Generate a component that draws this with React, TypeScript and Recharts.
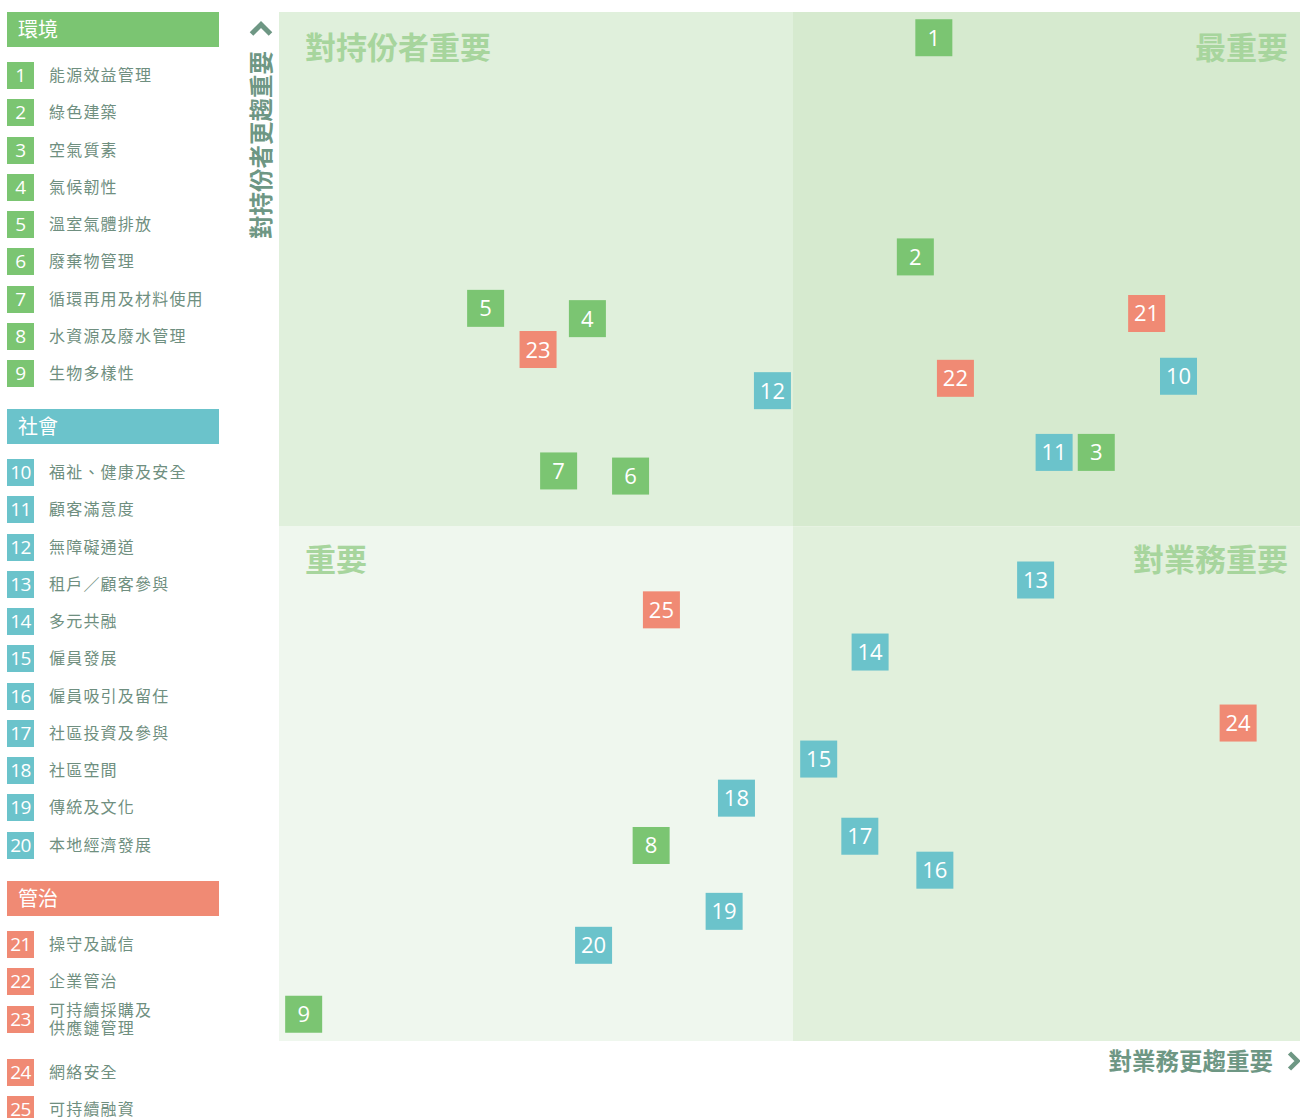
import React from 'react'
import {
  ScatterChart,
  Scatter,
  XAxis,
  YAxis,
  ReferenceArea,
} from 'recharts'

// topic names, numbered 1..25 in order
const envTopics = [
  '能源效益管理',
  '綠色建築',
  '空氣質素',
  '氣候韌性',
  '溫室氣體排放',
  '廢棄物管理',
  '循環再用及材料使用',
  '水資源及廢水管理',
  '生物多樣性',
]
const socialTopics = [
  '福祉、健康及安全',
  '顧客滿意度',
  '無障礙通道',
  '租戶／顧客參與',
  '多元共融',
  '僱員發展',
  '僱員吸引及留任',
  '社區投資及參與',
  '社區空間',
  '傳統及文化',
  '本地經濟發展',
]
const govTopics = [
  '操守及誠信',
  '企業管治',
  '可持續採購及\n供應鏈管理',
  '網絡安全',
  '可持續融資',
]

// importance to business (x) and to stakeholders (y), topics 1..25
const businessScores = [
  6.37, 6.19, 7.95, 3.0, 2.01, 3.42, 2.72, 3.62, 0.24, 8.75, 7.54, 4.8, 7.36,
  5.75, 5.25, 6.38, 5.65, 4.45, 4.33, 3.06, 8.44, 6.58, 2.52, 9.33, 3.72,
]
const stakeholderScores = [
  9.75, 7.62, 5.72, 7.02, 7.12, 5.49, 5.54, 1.9, 0.26, 6.46, 5.72, 6.32, 4.48,
  3.78, 2.74, 1.66, 1.99, 2.36, 1.26, 0.93, 7.07, 6.44, 6.72, 3.09, 4.19,
]

const GREEN = '#7bc572'
const TEAL = '#6bc3cb'
const SALMON = '#f08a74'
const AXIS_TEXT = '#6e9784'
const LEGEND_TEXT = '#6f8f80'
const QUAD_TEXT = '#a7d59d'
const CJK = '"Noto Sans CJK TC", "Noto Sans", sans-serif'
const NUM_FONT = '"Open Sans", "Noto Sans", sans-serif'

const sections = [
  { title: '環境', color: GREEN, topics: envTopics, start: 1, top: 12 },
  { title: '社會', color: TEAL, topics: socialTopics, start: 10, top: 409 },
  { title: '管治', color: SALMON, topics: govTopics, start: 21, top: 881 },
]

const buildPoints = (topics: string[], start: number) =>
  topics.map((_, i) => ({
    id: start + i,
    x: businessScores[start + i - 1],
    y: stakeholderScores[start + i - 1],
  }))

const envPoints = buildPoints(envTopics, 1)
const socialPoints = buildPoints(socialTopics, 10)
const govPoints = buildPoints(govTopics, 21)

const makeSquare = (color: string) => (props: any) => {
  const { cx, cy, payload } = props
  if (cx == null || cy == null) return <g />
  return (
    <g>
      <rect x={cx - 18.5} y={cy - 18.5} width={37} height={37} fill={color} />
      <text
        x={cx}
        y={cy - 1}
        textAnchor="middle"
        dominantBaseline="central"
        fill="#fff"
        fontSize={22}
        fontFamily={NUM_FONT}
      >
        {payload.id}
      </text>
    </g>
  )
}

const quadLabel =
  (text: string, side: 'left' | 'right', dy: number, rightPad = 19) =>
  (props: any) => {
    const { x, y, width } = props.viewBox
    const left = side === 'left'
    return (
      <text
        x={left ? x + 26 : x + width - rightPad}
        y={y + dy}
        textAnchor={left ? 'start' : 'end'}
        dominantBaseline="central"
        fill={QUAD_TEXT}
        fontSize={31}
        fontWeight={700}
        fontFamily={CJK}
      >
        {text}
      </text>
    )
  }

const YLabel = () => (
  <g>
    <path
      d="M251.5 34 L261 24.5 L270.5 34"
      fill="none"
      stroke={AXIS_TEXT}
      strokeWidth={5}
    />
    <text
      x={0}
      y={0}
      transform="translate(260 145) rotate(-90)"
      textAnchor="middle"
      dominantBaseline="central"
      fill={AXIS_TEXT}
      fontSize={23.5}
      fontWeight={700}
      fontFamily={CJK}
    >
      對持份者更趨重要
    </text>
  </g>
)

const XLabel = () => (
  <g>
    <text
      x={1273}
      y={1060}
      textAnchor="end"
      dominantBaseline="central"
      fill={AXIS_TEXT}
      fontSize={23.5}
      fontWeight={700}
      fontFamily={CJK}
    >
      對業務更趨重要
    </text>
    <path
      d="M1289.5 1053 L1297.5 1061 L1289.5 1069"
      fill="none"
      stroke={AXIS_TEXT}
      strokeWidth={4.5}
    />
  </g>
)

function SideLegend() {
  const nodes: React.ReactNode[] = []
  sections.forEach((s) => {
    nodes.push(
      <div
        key={s.title}
        style={{
          position: 'absolute',
          left: 7,
          top: s.top,
          width: 212,
          height: 35,
          background: s.color,
          color: '#fff',
          fontSize: 20,
          lineHeight: '33px',
          paddingLeft: 11,
          boxSizing: 'border-box',
          fontFamily: CJK,
        }}
      >
        {s.title}
      </div>
    )
    let top = s.top + 50
    s.topics.forEach((name, i) => {
      const lines = name.split('\n').length
      nodes.push(
        <div
          key={s.start + i}
          style={{
            position: 'absolute',
            left: 7,
            top,
            height: 27,
            display: 'flex',
            alignItems: 'center',
          }}
        >
          <div
            style={{
              width: 27,
              height: 27,
              background: s.color,
              color: '#fff',
              fontSize: 19,
              lineHeight: '27px',
              textAlign: 'center',
              fontFamily: NUM_FONT,
              letterSpacing: -0.5,
            }}
          >
            {s.start + i}
          </div>
          <div
            style={{
              marginLeft: 15,
              marginTop: -3,
              color: LEGEND_TEXT,
              fontSize: 16,
              letterSpacing: 1.2,
              lineHeight: '18px',
              whiteSpace: 'pre-line',
              fontFamily: CJK,
            }}
          >
            {name}
          </div>
        </div>
      )
      top += 37.25 + (lines - 1) * 16
    })
  })
  return <>{nodes}</>
}

export default function App() {
  return (
    <div
      style={{
        position: 'fixed',
        left: 0,
        top: 0,
        width: 1300,
        height: 1118,
        overflow: 'hidden',
        background: '#fff',
      }}
    >
      <div style={{ position: 'absolute', left: 0, top: 0 }}>
        <ScatterChart
          width={1307}
          height={1118}
          margin={{ top: 12, right: 0, bottom: 0, left: 0 }}
        >
          <XAxis
            type="number"
            dataKey="x"
            domain={[0, 10]}
            tick={false}
            tickLine={false}
            axisLine={false}
            height={77}
            label={<XLabel />}
          />
          <YAxis
            type="number"
            dataKey="y"
            domain={[0, 10]}
            tick={false}
            tickLine={false}
            axisLine={false}
            width={279}
            label={<YLabel />}
          />
          <ReferenceArea
            x1={0}
            x2={5}
            y1={5}
            y2={10}
            fill="#e0f0dc"
            fillOpacity={1}
            stroke="none"
            label={quadLabel('對持份者重要', 'left', 33)}
          />
          <ReferenceArea
            x1={5}
            x2={10}
            y1={5}
            y2={10}
            fill="#d6eacf"
            fillOpacity={1}
            stroke="none"
            label={quadLabel('最重要', 'right', 33)}
          />
          <ReferenceArea
            x1={0}
            x2={5}
            y1={0}
            y2={5}
            fill="#eff7ee"
            fillOpacity={1}
            stroke="none"
            label={quadLabel('重要', 'left', 31)}
          />
          <ReferenceArea
            x1={5}
            x2={10}
            y1={0}
            y2={5}
            fill="#e1f0dc"
            fillOpacity={1}
            stroke="none"
            label={quadLabel('對業務重要', 'right', 31)}
          />
          <Scatter
            data={envPoints}
            shape={makeSquare(GREEN)}
            isAnimationActive={false}
          />
          <Scatter
            data={socialPoints}
            shape={makeSquare(TEAL)}
            isAnimationActive={false}
          />
          <Scatter
            data={govPoints}
            shape={makeSquare(SALMON)}
            isAnimationActive={false}
          />
        </ScatterChart>
      </div>
      <SideLegend />
    </div>
  )
}
